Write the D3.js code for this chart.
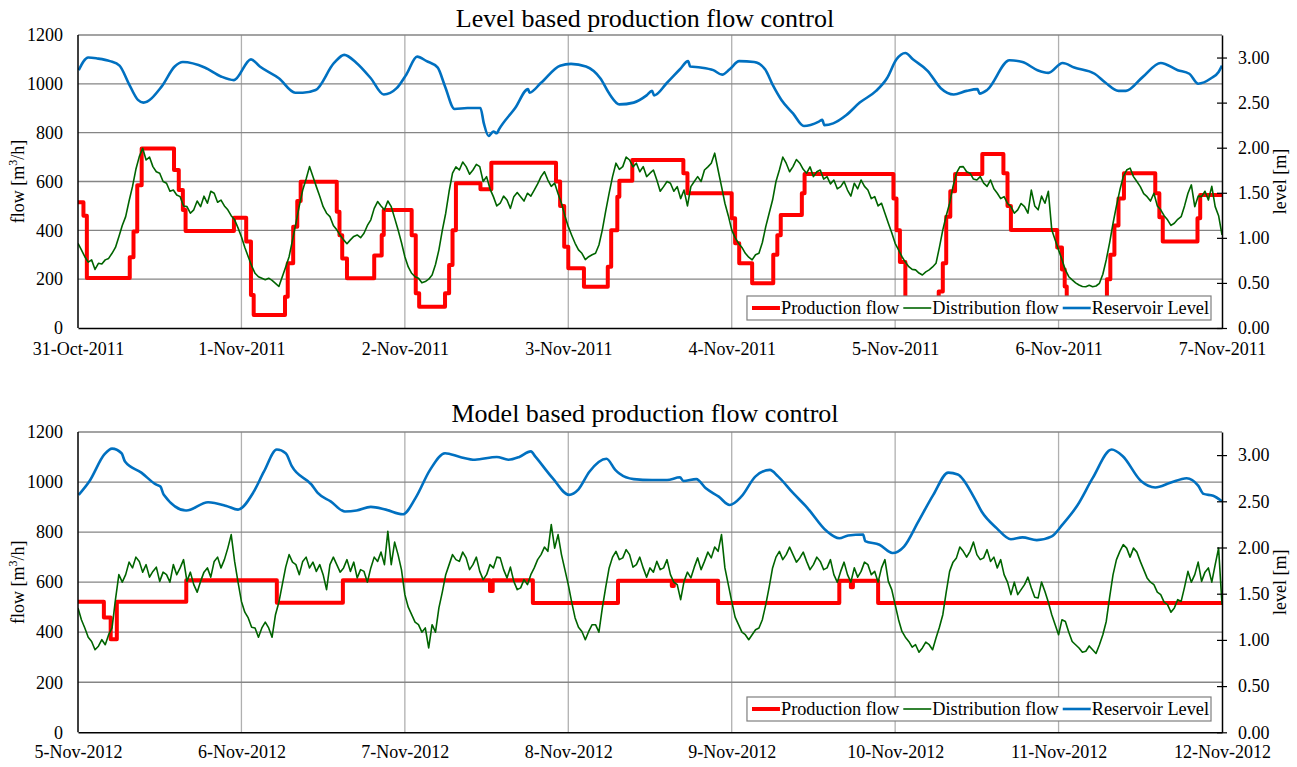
<!DOCTYPE html>
<html>
<head>
<meta charset="utf-8">
<script src="https://cdn.jsdelivr.net/npm/d3@7"></script>
<style>
body { margin: 0; background: #fff; }
svg { display: block; font-family: "Liberation Serif", "Times New Roman", serif; }
</style>
</head>
<body>
<script>
const width = 1297;
const height = 767;

// x axis: hours since the first midnight, one label per day
const dayHours = [0, 24, 48, 72, 96, 120, 144, 168];
const topDays = ["31-Oct-2011", "1-Nov-2011", "2-Nov-2011", "3-Nov-2011", "4-Nov-2011", "5-Nov-2011", "6-Nov-2011", "7-Nov-2011"];
const bottomDays = ["5-Nov-2012", "6-Nov-2012", "7-Nov-2012", "8-Nov-2012", "9-Nov-2012", "10-Nov-2012", "11-Nov-2012", "12-Nov-2012"];
const flowTicks = [0, 200, 400, 600, 800, 1000, 1200];
const levelTicks = [0, 0.5, 1.0, 1.5, 2.0, 2.5, 3.0];

// ---- 2011, level based control ----
// production flow: step changes (hour, m3/h)
const topProdHours = [0, 0.8, 1.3, 7.6, 8.15, 8.7, 9.35, 14.1, 14.8, 15.4, 15.8, 22.9, 24.7, 25.4, 25.8,
  30.4, 30.8, 31.6, 32.2, 32.7, 38.0, 38.4, 38.8, 39.5, 43.5, 44.6, 44.9, 49.0, 49.6, 50.1,
  53.9, 54.5, 55.0, 55.5, 59.1, 60.7, 70.2, 70.8, 71.4, 72.0, 74.3, 77.8, 78.3, 79.2, 79.5, 81.4,
  88.9, 89.5, 96.0, 96.5, 97.1, 99.0, 102.1, 102.7, 103.2, 106.3, 106.7, 119.75, 120.2, 120.7, 121.5,
  126.4, 127.0, 127.5, 128.1, 128.8, 132.8, 135.9, 136.5, 137.0, 143.8, 144.5, 144.9, 145.2,
  151.1, 151.6, 152.2, 152.8, 153.6, 158.2, 158.8, 159.3, 164.4, 164.8, 168];
const topProdFlow = [515, 460, 205, 290, 395, 585, 735, 647, 565, 483, 397, 452, 354, 135, 53,
  128, 265, 415, 520, 599, 476, 380, 285, 204, 297, 381, 483, 380, 142, 87,
  142, 258, 400, 593, 568, 677, 600, 500, 333, 245, 169, 251, 400, 538, 603, 688,
  634, 552, 450, 347, 265, 183, 300, 380, 463, 552, 631, 530, 400, 270, 60,
  150, 265, 456, 560, 631, 713, 634, 500, 401, 330, 240, 170, 60,
  200, 300, 420, 530, 634, 552, 454, 354, 450, 545, 545];

// distribution flow, one reading every half hour from hour 0
const distStepHours = 0.5;
const topDistFlow = [
  347, 320, 292, 270, 279, 240, 265, 262, 279, 285, 306, 330,
  374, 420, 456, 520, 579, 650, 702, 736, 688, 700, 661, 640,
  634, 600, 593, 560, 565, 545, 538, 500, 497, 470, 484, 520,
  497, 540, 511, 560, 552, 515, 524, 500, 484, 460, 443, 410,
  374, 330, 292, 255, 224, 210, 204, 198, 204, 195, 183, 170,
  210, 250, 292, 360, 429, 500, 565, 610, 661, 620, 579, 540,
  497, 470, 456, 420, 402, 380, 361, 345, 361, 375, 381, 370,
  388, 420, 443, 490, 518, 500, 484, 520, 497, 450, 402, 350,
  292, 250, 224, 210, 204, 185, 190, 200, 217, 260, 320, 400,
  470, 560, 634, 660, 647, 680, 661, 630, 647, 670, 661, 600,
  620, 570, 538, 500, 511, 540, 524, 490, 538, 555, 538, 520,
  552, 540, 565, 590, 620, 640, 606, 580, 593, 550, 511, 460,
  415, 380, 347, 320, 306, 280, 292, 300, 306, 340, 402, 480,
  552, 620, 675, 650, 661, 700, 688, 660, 675, 640, 661, 620,
  634, 647, 606, 560, 579, 600, 593, 560, 579, 530, 565, 500,
  579, 600, 620, 600, 647, 660, 675, 716, 647, 580, 511, 460,
  402, 370, 347, 330, 306, 290, 279, 300, 306, 350, 415, 470,
  524, 600, 647, 700, 675, 640, 661, 690, 675, 650, 634, 660,
  620, 640, 647, 610, 620, 590, 606, 570, 579, 600, 565, 540,
  593, 570, 606, 580, 565, 530, 538, 500, 511, 470, 429, 390,
  347, 320, 292, 270, 251, 240, 238, 225, 217, 230, 238, 250,
  265, 330, 402, 460, 511, 580, 634, 660, 661, 640, 634, 610,
  606, 620, 593, 580, 606, 570, 552, 530, 538, 510, 497, 470,
  484, 510, 497, 470, 565, 500, 484, 540, 511, 560, 402, 360,
  320, 280, 238, 210, 197, 185, 176, 170, 169, 175, 169, 172,
  183, 220, 279, 350, 429, 500, 565, 620, 647, 655, 620, 600,
  579, 550, 538, 520, 552, 500, 484, 460, 443, 420, 429, 445,
  456, 500, 552, 586, 497, 540, 538, 560, 524, 580, 497, 460,
  381];

// reservoir level (hour, m)
const topLevelHours = [0.1, 1.5, 2.8, 4.7, 6.1, 7.4, 8.8, 9.6, 12.3, 14.2, 15.4, 18.6, 21.0, 22.9,
  25.4, 26.7, 29.5, 31.9, 33.0, 34.9, 37.6, 39.1, 40.9, 43.0, 44.9, 46.8, 48.2, 49.8, 51.2, 52.8,
  53.9, 55.3, 57.2, 59.1, 59.6, 60.3, 61.0, 61.5, 61.8, 64.2, 66.1, 66.3, 68.0, 70.8, 72.4, 74.6,
  76.7, 78.1, 79.5, 81.6, 83.5, 84.3, 84.6, 86.5, 88.4, 89.6, 89.9, 91.4, 93.3, 94.6, 95.7,
  97.1, 99.3, 100.9, 102.0, 103.3, 105.0, 106.6, 108.8, 109.3, 109.6, 110.9, 112.8, 114.8,
  117.2, 118.8, 120.2, 121.5, 122.6, 124.8, 126.7, 128.6, 130.5, 132.1, 132.4, 133.5, 136.8,
  138.7, 140.9, 142.5, 144.6, 146.3, 149.3, 150.9, 152.8, 153.9, 156.3, 159.0, 161.5, 163.2,
  164.5, 166.4, 167.5, 168];
const topLevelM = [2.86, 3.00, 2.99, 2.96, 2.91, 2.72, 2.53, 2.50, 2.68, 2.90, 2.95, 2.89, 2.79, 2.75,
  2.98, 2.90, 2.77, 2.61, 2.61, 2.64, 2.94, 3.03, 2.94, 2.77, 2.59, 2.66, 2.81, 3.01, 2.96, 2.89,
  2.68, 2.43, 2.44, 2.44, 2.27, 2.13, 2.18, 2.16, 2.20, 2.44, 2.65, 2.61, 2.72, 2.91, 2.93, 2.90,
  2.77, 2.59, 2.48, 2.50, 2.58, 2.63, 2.58, 2.72, 2.87, 2.96, 2.90, 2.89, 2.86, 2.81, 2.87,
  2.96, 2.95, 2.87, 2.70, 2.53, 2.38, 2.24, 2.29, 2.31, 2.25, 2.27, 2.36, 2.50,
  2.63, 2.77, 2.98, 3.05, 2.98, 2.85, 2.66, 2.59, 2.63, 2.65, 2.60, 2.64, 2.97,
  2.95, 2.86, 2.83, 2.94, 2.89, 2.82, 2.72, 2.63, 2.63, 2.78, 2.94, 2.86, 2.82,
  2.71, 2.77, 2.84, 2.91];

// ---- 2012, model based control ----
const bottomProdHours = [0, 3.8, 4.8, 5.7, 15.9, 29.2, 38.9, 60.5, 60.9, 66.8, 79.3, 87.2, 87.5,
  94.0, 111.8, 113.5, 113.8, 117.5, 168];
const bottomProdFlow = [522, 459, 372, 522, 608, 518, 608, 565, 608, 517, 606, 585, 606,
  517, 606, 580, 606, 517, 517];

const bottomDistFlow = [
  497, 450, 417, 380, 363, 330, 344, 370, 350, 390, 417, 530,
  630, 600, 630, 680, 657, 700, 683, 640, 670, 620, 643, 660,
  603, 640, 630, 600, 670, 630, 657, 690, 603, 640, 590, 560,
  603, 640, 657, 620, 683, 700, 657, 690, 736, 790, 683, 600,
  523, 480, 457, 420, 417, 380, 417, 440, 417, 380, 470, 520,
  590, 660, 710, 680, 670, 630, 683, 700, 657, 680, 643, 670,
  630, 570, 670, 700, 670, 640, 657, 690, 643, 680, 617, 650,
  643, 600, 657, 700, 683, 720, 670, 803, 670, 760, 710, 650,
  550, 500, 470, 440, 430, 400, 417, 337, 430, 400, 497, 560,
  630, 670, 710, 690, 683, 720, 697, 650, 670, 700, 643, 610,
  630, 670, 657, 700, 697, 650, 617, 660, 603, 570, 577, 610,
  590, 630, 657, 690, 710, 740, 723, 830, 736, 790, 710, 650,
  590, 520, 457, 420, 403, 370, 403, 430, 430, 400, 497, 580,
  657, 700, 723, 690, 697, 730, 710, 660, 670, 700, 657, 620,
  657, 640, 683, 650, 657, 690, 630, 600, 590, 530, 603, 640,
  617, 660, 697, 650, 683, 720, 697, 740, 723, 790, 657, 590,
  523, 460, 430, 400, 390, 370, 390, 410, 417, 450, 510, 580,
  657, 700, 723, 690, 710, 740, 710, 680, 697, 720, 683, 650,
  670, 700, 683, 650, 657, 690, 630, 600, 643, 680, 630, 600,
  657, 620, 643, 680, 670, 630, 643, 600, 657, 690, 603, 570,
  510, 450, 403, 380, 363, 340, 350, 320, 337, 360, 350, 330,
  377, 420, 470, 560, 643, 680, 697, 740, 723, 700, 723, 760,
  710, 690, 697, 730, 683, 700, 657, 690, 630, 600, 550, 600,
  550, 570, 590, 620, 577, 540, 537, 600, 563, 520, 470, 430,
  390, 450, 443, 400, 363, 350, 337, 320, 324, 345, 330, 315,
  350, 390, 443, 540, 630, 690, 723, 750, 736, 700, 736, 720,
  683, 650, 617, 600, 590, 560, 550, 520, 510, 480, 497, 530,
  523, 580, 643, 600, 630, 680, 603, 640, 657, 600, 670, 736,
  510];

const bottomLevelHours = [0.1, 1.7, 3.9, 5.0, 6.4, 6.9, 9.3, 11.5, 12.1, 12.6, 15.9, 19.1, 21.8, 23.5,
  25.7, 27.3, 29.2, 30.5, 31.4, 34.3, 35.2, 37.1, 39.2, 40.9, 43.0, 45.2, 47.7, 49.6, 51.7, 53.9,
  56.1, 58.3, 61.5, 63.2, 64.8, 66.5, 67.2, 69.7, 72.1, 73.5, 75.1, 77.6, 78.9, 79.5, 81.6, 84.3,
  86.5, 88.4, 88.9, 90.8, 92.2, 94.1, 95.7, 97.4, 99.5, 101.6, 102.8, 105.0, 107.1, 109.9, 111.8,
  113.1, 115.3, 115.6, 117.7, 119.6, 121.3, 123.4, 125.6, 127.8, 129.2, 131.6, 132.7, 134.9,
  137.0, 138.7, 140.8, 143.0, 144.6, 146.8, 149.0, 151.8, 153.4, 156.1, 158.2, 160.4, 162.8,
  164.5, 165.3, 166.7, 168];
const bottomLevelM = [2.57, 2.72, 3.01, 3.07, 3.02, 2.93, 2.81, 2.68, 2.66, 2.57, 2.40, 2.49, 2.45, 2.41,
  2.59, 2.82, 3.06, 3.02, 2.88, 2.68, 2.59, 2.50, 2.39, 2.40, 2.44, 2.41, 2.36, 2.54, 2.84, 3.02,
  2.98, 2.95, 2.98, 2.95, 2.98, 3.04, 2.98, 2.75, 2.57, 2.63, 2.82, 2.96, 2.84, 2.80, 2.74, 2.73,
  2.73, 2.76, 2.72, 2.74, 2.64, 2.55, 2.46, 2.55, 2.77, 2.84, 2.77, 2.59, 2.43, 2.18, 2.10,
  2.13, 2.14, 2.07, 2.03, 1.94, 2.01, 2.28, 2.57, 2.81, 2.79, 2.54, 2.39, 2.21,
  2.09, 2.11, 2.08, 2.12, 2.25, 2.46, 2.75, 3.06, 2.99, 2.72, 2.65, 2.70, 2.75,
  2.67, 2.58, 2.56, 2.50];

const legendItems = ["Production flow", "Distribution flow", "Reservoir Level"];
const colors = { prod: "#ff0000", dist: "#006400", level: "#0070c0" };

const plotLeft = 78;
const plotRight = 1222;

const svg = d3.select("body")
    .append("svg")
    .attr("width", width)
    .attr("height", height);

svg.append("rect").attr("width", width).attr("height", height).attr("fill", "#fff");

function zip(a, b) {
    return a.map((v, i) => [v, b[i]]);
}

function drawPanel(p) {
    const g = svg.append("g");
    const x = d3.scaleLinear().domain([0, 168]).range([plotLeft, plotRight]);
    const yF = d3.scaleLinear().domain([0, 1200]).range([p.bottom, p.top]);
    const yL = d3.scaleLinear().domain([0, 3.25]).range([p.bottom, p.top]);

    // grid
    g.selectAll(".vgrid").data(dayHours.slice(1, -1)).join("line")
        .attr("x1", d => x(d)).attr("x2", d => x(d))
        .attr("y1", p.top).attr("y2", p.bottom)
        .attr("stroke", "#b0b0b0").attr("stroke-width", 1.3);
    g.selectAll(".hgrid").data(flowTicks.slice(1)).join("line")
        .attr("x1", plotLeft).attr("x2", plotRight)
        .attr("y1", d => yF(d)).attr("y2", d => yF(d))
        .attr("stroke", "#858585").attr("stroke-width", 1.3);

    const clipId = "clip" + p.id;
    g.append("clipPath").attr("id", clipId)
        .append("rect")
        .attr("x", plotLeft).attr("y", p.top)
        .attr("width", plotRight - plotLeft).attr("height", p.bottom - p.top);

    const lines = g.append("g").attr("clip-path", "url(#" + clipId + ")");

    const prodLine = d3.line()
        .x(d => x(d[0])).y(d => yF(d[1]))
        .curve(d3.curveStepAfter);
    lines.append("path")
        .datum(zip(p.prodHours, p.prodFlow))
        .attr("d", prodLine)
        .attr("fill", "none")
        .attr("stroke", colors.prod)
        .attr("stroke-width", 4)
        .attr("stroke-linejoin", "round");

    const distLine = d3.line()
        .x((d, i) => x(i * distStepHours)).y(d => yF(d));
    lines.append("path")
        .datum(p.dist)
        .attr("d", distLine)
        .attr("fill", "none")
        .attr("stroke", colors.dist)
        .attr("stroke-width", 1.6)
        .attr("stroke-linejoin", "round");

    const levelLine = d3.line()
        .x(d => x(d[0])).y(d => yL(d[1]))
        .curve(d3.curveMonotoneX);
    lines.append("path")
        .datum(zip(p.levelHours, p.level))
        .attr("d", levelLine)
        .attr("fill", "none")
        .attr("stroke", colors.level)
        .attr("stroke-width", 2.6)
        .attr("stroke-linejoin", "round");

    // axes
    const leftAxis = g.append("g")
        .attr("transform", "translate(" + plotLeft + ",0)")
        .call(d3.axisLeft(yF).tickValues(flowTicks).tickFormat(d3.format("d"))
            .tickSize(0).tickSizeOuter(0).tickPadding(15));
    const rightAxis = g.append("g")
        .attr("transform", "translate(" + plotRight + ",0)")
        .call(d3.axisRight(yL).tickValues(levelTicks).tickFormat(d3.format(".2f"))
            .tickSize(5).tickSizeOuter(0).tickPadding(11));
    rightAxis.selectAll(".tick line").attr("x1", -5);
    const bottomAxis = g.append("g")
        .attr("transform", "translate(0," + p.bottom + ")")
        .call(d3.axisBottom(x).tickValues(dayHours).tickFormat((d, i) => p.days[i])
            .tickSize(0).tickSizeOuter(0).tickPadding(p.xPad));

    [leftAxis, rightAxis, bottomAxis].forEach(a => {
        a.attr("font-family", null).attr("font-size", null);
        a.selectAll("text").attr("font-size", 18).attr("fill", "#000");
        a.select(".domain").attr("stroke", "#000").attr("stroke-width", 1.5);
        a.selectAll(".tick line").attr("stroke", "#000").attr("stroke-width", 1.2);
    });
    leftAxis.select(".domain").attr("d", "M0," + p.bottom + "V" + p.top);

    // titles
    g.append("text")
        .attr("x", 645).attr("y", p.titleY)
        .attr("text-anchor", "middle")
        .attr("font-size", 26)
        .text(p.title);

    const midY = (p.top + p.bottom) / 2;
    const flowTitle = g.append("text")
        .attr("transform", "translate(24," + midY + ") rotate(-90)")
        .attr("text-anchor", "middle")
        .attr("font-size", 18);
    flowTitle.append("tspan").text("flow [m");
    flowTitle.append("tspan").attr("font-size", 12).attr("dy", -7).text("3");
    flowTitle.append("tspan").attr("dy", 7).text("/h]");

    g.append("text")
        .attr("transform", "translate(1286," + midY + ") rotate(-90)")
        .attr("text-anchor", "middle")
        .attr("font-size", 18)
        .text("level [m]");

    // legend
    const lg = g.append("g");
    const box = lg.append("rect")
        .attr("fill", "#fff")
        .attr("stroke", "#7f7f7f")
        .attr("stroke-width", 1.2);
    const styles = [[colors.prod, 4], [colors.dist, 1.6], [colors.level, 2.6]];
    let cx = 5;
    legendItems.forEach((name, i) => {
        lg.append("line")
            .attr("x1", cx).attr("x2", cx + 28)
            .attr("y1", 0).attr("y2", 0)
            .attr("stroke", styles[i][0])
            .attr("stroke-width", styles[i][1]);
        const t = lg.append("text")
            .attr("x", cx + 29).attr("y", 6)
            .attr("font-size", 18.3)
            .text(name);
        cx += 29 + t.node().getComputedTextLength() + 4;
    });
    const boxW = cx - 2;
    box.attr("x", 0).attr("y", -12).attr("width", boxW).attr("height", 24);
    lg.attr("transform", "translate(" + (1211 - boxW) + "," + (p.legendTop + 12) + ")");
}

drawPanel({
    id: "top", top: 35, bottom: 328, titleY: 27, legendTop: 296, xPad: 14,
    title: "Level based production flow control", days: topDays,
    prodHours: topProdHours, prodFlow: topProdFlow, dist: topDistFlow,
    levelHours: topLevelHours, level: topLevelM
});

drawPanel({
    id: "bottom", top: 432, bottom: 732.3, titleY: 422, legendTop: 697, xPad: 13,
    title: "Model based production flow control", days: bottomDays,
    prodHours: bottomProdHours, prodFlow: bottomProdFlow, dist: bottomDistFlow,
    levelHours: bottomLevelHours, level: bottomLevelM
});
</script>
</body>
</html>
